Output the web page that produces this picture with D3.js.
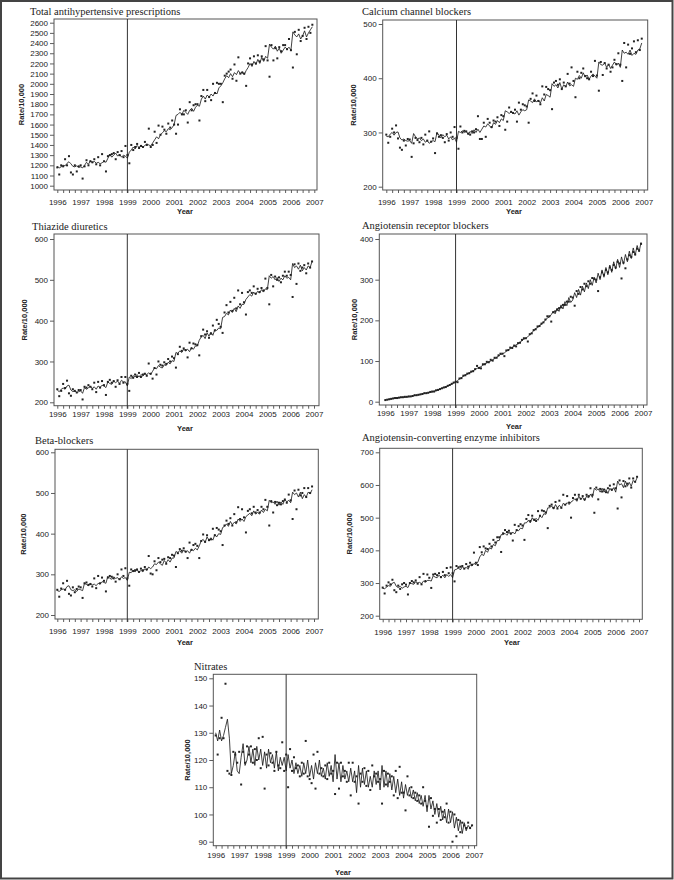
<!DOCTYPE html>
<html>
<head>
<meta charset="utf-8">
<script src="https://cdn.jsdelivr.net/npm/d3@7"></script>
<style>
  body { margin: 0; background: #fff; }
  svg { display: block; }
  .tick text { font-family: "Liberation Sans", Arial, sans-serif; font-size: 8px; fill: #222; }
  .ttl { font-family: "Liberation Serif", "Times New Roman", serif; font-size: 10.5px; fill: #222; }
  .lab { font-family: "Liberation Sans", Arial, sans-serif; font-size: 7.5px; font-weight: bold; fill: #222; }
</style>
</head>
<body>
<div id="chart"></div>
<script>
// monthly values, Jan 1996 .. Dec 2006 (one row per year)
const yearTicks = [1996, 1997, 1998, 1999, 2000, 2001, 2002, 2003, 2004, 2005, 2006, 2007];

const totalFit = [
  1190,1175,1185,1200,1195,1220,1235,1215,1190,1185,1195,1180,
  1185,1175,1200,1230,1210,1245,1225,1240,1220,1230,1215,1225,
  1240,1230,1270,1310,1280,1300,1320,1290,1310,1280,1300,1290,
  1270,1330,1350,1380,1360,1395,1375,1400,1380,1395,1410,1400,
  1390,1420,1450,1480,1460,1500,1520,1540,1530,1560,1550,1570,
  1600,1690,1700,1720,1700,1740,1720,1700,1740,1760,1730,1770,
  1790,1780,1850,1880,1850,1890,1870,1900,1880,1920,1900,1960,
  1980,2010,2050,2080,2060,2100,2070,2110,2090,2130,2100,2120,
  2090,2130,2160,2200,2170,2220,2190,2240,2200,2260,2220,2270,
  2250,2390,2360,2340,2370,2320,2350,2300,2330,2360,2340,2360,
  2330,2510,2480,2460,2490,2440,2470,2520,2460,2500,2530,2560];
const totalObs = [
  1180,1110,1200,1190,1260,1200,1290,1130,1110,1200,1140,1190,
  1200,1070,1190,1250,1200,1240,1230,1260,1210,1280,1200,1310,
  1240,1140,1290,1300,1310,1320,1260,1330,1300,1340,1280,1390,
  1300,1220,1400,1350,1380,1410,1370,1390,1380,1430,1400,1560,
  1380,1400,1530,1420,1590,1500,1580,1550,1510,1610,1570,1640,
  1600,1510,1600,1750,1700,1700,1740,1620,1820,1740,1790,1800,
  1800,1640,1880,1940,1830,1940,1870,1840,2000,1910,2010,2000,
  2000,1820,2080,2100,2120,2140,2050,2190,2030,2260,2100,2110,
  2100,1980,2200,2250,2190,2270,2200,2280,2220,2270,2240,2370,
  2230,2070,2380,2230,2350,2250,2360,2320,2380,2380,2340,2440,
  2330,2160,2510,2290,2530,2420,2470,2550,2440,2560,2500,2580];

const ccbFit = [
  293,292,297,300,295,300,301,290,286,288,285,284,
  285,280,298,292,288,290,285,288,282,285,280,283,
  285,283,300,295,290,296,292,295,288,292,286,290,
  282,302,300,303,300,302,296,302,298,305,300,306,
  300,306,312,310,316,312,308,318,315,322,318,325,
  322,340,338,335,338,336,334,340,332,338,342,340,
  342,360,358,355,362,356,360,354,364,358,370,368,
  365,390,385,388,382,392,380,388,384,393,386,388,
  385,400,398,405,400,410,402,406,398,404,408,404,
  400,430,425,424,428,420,426,418,424,430,424,428,
  420,452,446,448,444,452,442,446,444,452,454,465];
const ccbObs = [
  296,281,292,307,300,313,289,272,268,285,276,288,
  287,255,280,290,286,282,290,278,296,285,302,283,
  289,262,298,292,295,290,282,297,285,300,292,310,
  290,270,311,300,303,302,298,296,302,300,306,330,
  288,288,318,292,325,318,310,322,320,328,312,332,
  330,305,320,346,338,336,342,320,355,342,352,350,
  348,318,362,372,358,368,358,352,385,370,384,380,
  378,343,392,395,388,398,380,392,385,408,390,420,
  395,365,412,400,410,418,404,400,398,412,404,432,
  405,377,430,406,428,418,425,412,420,434,426,446,
  425,395,465,420,462,445,455,468,448,470,452,473];

const thzFit = [
  230,226,232,235,232,240,242,230,226,228,224,226,
  228,222,236,232,235,240,234,238,232,240,236,242,
  240,236,250,246,244,252,248,252,246,254,250,250,
  240,262,258,265,262,268,262,268,264,270,268,272,
  268,276,284,282,290,286,284,292,290,298,294,302,
  300,322,320,326,322,330,326,330,324,334,330,338,
  338,352,360,364,356,370,362,372,364,378,376,382,
  380,408,410,418,414,426,420,430,422,436,430,440,
  440,452,458,464,460,470,464,472,468,476,470,478,
  476,510,504,508,500,506,496,504,500,510,504,506,
  500,540,530,534,526,536,522,530,524,534,530,545];
const thzObs = [
  232,215,228,245,235,253,222,216,232,228,224,230,
  230,207,238,236,242,238,232,248,225,250,236,252,
  242,218,250,255,248,252,238,254,245,262,248,262,
  245,228,265,260,268,262,272,262,268,270,265,295,
  270,258,284,268,300,292,290,298,294,306,300,312,
  308,285,318,336,326,332,328,310,346,332,344,342,
  340,315,362,378,366,374,358,368,388,376,402,392,
  385,370,420,438,420,446,424,456,430,474,440,468,
  445,415,470,474,468,484,466,478,470,480,474,503,
  480,440,512,484,508,500,506,494,510,520,510,520,
  512,458,538,490,540,522,530,536,516,540,530,545];

const arbFit = [
  4,5,6,7,8,9,9,10,10,11,11,12,
  12,13,14,15,16,17,18,19,20,21,22,23,
  24,26,27,29,31,33,35,37,39,41,43,46,
  48,52,56,59,63,66,68,71,73,76,79,82,
  84,86,90,93,95,98,100,103,106,109,112,116,
  118,120,124,128,130,134,136,140,142,146,150,154,
  156,160,164,170,174,180,182,188,190,196,200,206,
  208,214,222,216,230,222,238,228,246,236,256,244,
  250,268,256,276,262,284,270,292,278,300,286,306,
  292,316,300,324,306,330,312,336,318,344,326,350,
  330,356,338,362,344,370,352,378,360,384,368,392];
const arbObs = [
  4,5,6,7,8,9,9,10,11,11,12,12,
  13,13,14,16,16,17,18,19,21,21,22,24,
  25,25,28,29,31,33,35,36,39,41,44,47,
  49,48,57,58,64,65,69,70,74,75,80,88,
  83,82,92,92,98,97,103,101,108,108,114,118,
  118,112,126,127,133,132,138,136,144,145,152,156,
  156,148,166,168,176,178,185,186,192,195,202,210,
  210,197,220,222,226,230,232,238,238,246,246,258,
  256,236,272,265,282,276,290,284,296,290,304,302,
  300,272,306,318,312,324,318,330,324,336,330,344,
  340,303,342,328,350,360,356,368,362,376,372,388];

const bbFit = [
  260,258,262,264,262,270,272,262,260,262,258,264,
  262,260,278,275,272,278,274,276,272,278,276,282,
  280,278,295,290,288,294,290,292,286,294,290,292,
  285,305,304,310,306,312,304,310,306,314,310,318,
  314,318,326,324,330,326,322,334,328,336,330,340,
  340,356,354,358,352,360,354,358,352,362,358,364,
  360,370,382,386,378,392,384,390,384,398,392,400,
  398,415,418,424,418,430,422,428,424,436,430,436,
  430,442,446,450,444,456,448,452,448,458,452,460,
  456,482,476,478,472,480,470,478,472,484,478,482,
  476,502,496,500,490,502,486,496,490,502,498,508];
const bbObs = [
  262,245,265,278,262,284,252,248,268,256,264,270,
  268,242,278,280,274,276,270,290,266,296,278,292,
  284,258,292,296,294,290,282,300,288,312,296,315,
  290,272,312,308,310,312,306,314,310,318,312,345,
  302,300,332,310,340,330,336,338,326,342,340,348,
  346,318,352,362,358,364,356,340,378,360,372,375,
  370,340,382,398,380,396,384,386,412,396,414,410,
  406,372,420,432,424,438,420,448,428,465,436,460,
  440,403,456,460,450,466,452,458,452,466,460,483,
  466,420,480,452,478,470,476,472,480,484,476,496,
  482,436,506,460,508,494,500,512,490,512,500,516];

const aceFit = [
  284,282,288,292,290,300,302,290,286,290,284,288,
  290,286,300,298,296,304,300,302,298,306,302,308,
  308,306,322,318,316,324,318,324,316,326,320,326,
  316,340,342,346,340,350,344,348,342,356,352,360,
  356,364,380,388,384,400,394,408,404,418,414,430,
  430,448,448,452,446,456,448,456,450,462,460,468,
  466,484,484,492,484,500,490,498,492,506,500,512,
  510,530,530,536,526,540,530,538,530,544,538,546,
  540,548,552,558,550,566,556,562,552,566,560,572,
  562,590,584,588,578,590,578,586,574,590,582,592,
  578,612,600,604,592,612,596,608,596,614,608,622];
const aceObs = [
  286,268,292,302,296,310,278,272,292,282,296,300,
  295,265,300,306,302,308,298,318,296,328,306,326,
  316,285,326,328,324,330,318,334,324,346,330,348,
  330,305,352,348,350,352,344,358,350,362,356,393,
  362,355,410,394,412,406,404,420,412,432,424,440,
  440,395,452,462,456,460,452,430,478,462,474,480,
  476,432,496,508,490,506,494,490,520,506,522,520,
  516,468,536,540,530,548,528,552,530,570,540,566,
  546,500,560,570,556,570,558,566,556,570,566,590,
  570,515,592,556,588,580,586,578,590,598,586,602,
  590,528,614,562,612,596,604,620,592,620,610,625];

const nitFit = [
  130,127,131,127,129,132,135,128,115,118,123,116,
  115,121,126,118,120,125,119,124,118,125,120,124,
  118,123,117,124,119,122,117,123,116,121,118,121,
  116,122,117,120,115,119,115,118,114,119,115,120,
  114,118,113,119,115,120,114,117,113,119,114,118,
  112,122,113,119,112,118,113,116,112,117,112,116,
  108,118,110,117,111,116,110,114,110,116,111,116,
  109,118,110,116,110,115,109,114,108,113,107,112,
  106,111,107,110,106,109,105,108,104,107,103,107,
  101,107,102,105,100,104,99,103,98,102,97,102,
  97,101,95,99,94,98,93,97,94,96,95,96];
const nitObs = [
  129,122,128,135.5,128,148,116,115,114.5,123,122,119,
  123,111,123,119,125,122,125,119,124,120,128,117,
  128.5,109.5,122,118,122.5,119,116,123,118,117,126.5,116,
  122,110,124,116,121,117,118,114,119,115,127,114,
  113,111.5,122,109.5,123,115,117,114,118,113,119,115,
  116,107.5,119,109.5,119,114,116,112,119,107,119,112,
  114,104,115,112,117,110.5,116,109,118,114,115,112,
  113,104,116,111,115,112,114,107,116,106,117.5,108,
  108,101.5,114,107,110,106,108,105,107,104,110,105,
  103,95.5,106,99.5,102,97,102,98,101,99,104,97,
  101,90,100,92,98,93.5,97,96,95,97,95,96];

const panels = [
  { title: "Total antihypertensive prescriptions", fit: totalFit, obs: totalObs,
    box: [54, 19, 317, 190], xr: [57.3, 314.3], yd: [1000, 2600], yr: [185.7, 22.7], step: 100,
    tx: 30, ty: 15, lx: 21, tickY: 201.7, yearY: 211, yearX: 185 },
  { title: "Calcium channel blockers", fit: ccbFit, obs: ccbObs,
    box: [382.7, 20, 647.7, 190], xr: [386.3, 643.7], yd: [200, 500], yr: [186.7, 24], step: 100,
    tx: 362, ty: 15, lx: 353, tickY: 201.7, yearY: 211, yearX: 514 },
  { title: "Thiazide diuretics", fit: thzFit, obs: thzObs,
    box: [54, 234, 319, 405.7], xr: [57.3, 314], yd: [200, 600], yr: [402.3, 239], step: 100,
    tx: 32, ty: 230, lx: 24, tickY: 414, yearY: 428, yearX: 185 },
  { title: "Angiotensin receptor blockers", fit: arbFit, obs: arbObs,
    box: [379.3, 234, 647, 405], xr: [385.3, 643], yd: [0, 400], yr: [401.7, 239], step: 100,
    tx: 362, ty: 229, lx: 354, tickY: 413.5, yearY: 426, yearX: 514 },
  { title: "Beta-blockers", fit: bbFit, obs: bbObs,
    box: [55, 449.3, 318.3, 619], xr: [57.3, 314], yd: [200, 600], yr: [615, 452.3], step: 100,
    tx: 35, ty: 444, lx: 23, tickY: 631, yearY: 642, yearX: 185 },
  { title: "Angiotensin-converting enzyme inhibitors", fit: aceFit, obs: aceObs,
    box: [379.7, 448.3, 642.3, 619.3], xr: [382.7, 639], yd: [200, 700], yr: [615.7, 452.3], step: 100,
    tx: 362, ty: 441, lx: 349, tickY: 632, yearY: 642, yearX: 512 },
  { title: "Nitrates", fit: nitFit, obs: nitObs,
    box: [213.3, 674.3, 476.7, 845.7], xr: [215.7, 474], yd: [90, 150], yr: [841.7, 678.3], step: 10,
    tx: 194, ty: 670, lx: 187, tickY: 855, yearY: 872, yearX: 343 }
];

const svg = d3.select("#chart").append("svg")
  .attr("width", 674).attr("height", 880);

svg.append("rect").attr("x", 1).attr("y", 1).attr("width", 671.5).attr("height", 877.5)
  .attr("fill", "none").attr("stroke", "#444").attr("stroke-width", 2);

const months = d3.range(132).map(i => 1996 + i / 12);
const quarters = d3.range(45).map(i => 1996 + i * 0.25);

panels.forEach(p => {
  const g = svg.append("g");
  const [L, T, R, B] = p.box;
  const x = d3.scaleLinear().domain([1996, 2007]).range(p.xr);
  const y = d3.scaleLinear().domain(p.yd).range(p.yr);

  // x axis hanging from the box bottom
  const xa = g.append("g").attr("transform", `translate(0,${B})`)
    .call(d3.axisBottom(x).tickValues(quarters).tickSize(3)
      .tickFormat(d => Number.isInteger(d) ? d : ""));
  xa.select(".domain").remove();
  xa.selectAll(".tick line").attr("stroke", "#333").attr("stroke-width", 0.8);
  xa.selectAll(".tick text").attr("y", p.tickY - B).attr("dy", "0.35em");

  const ya = g.append("g").attr("transform", `translate(${L},0)`)
    .call(d3.axisLeft(y).tickValues(d3.range(p.yd[0], p.yd[1] + 1, p.step)).tickSize(4).tickPadding(2)
      .tickFormat(d3.format("d")));
  ya.select(".domain").remove();
  ya.selectAll(".tick line").attr("stroke", "#333").attr("stroke-width", 0.8);

  g.append("rect").attr("x", L).attr("y", T).attr("width", R - L).attr("height", B - T)
    .attr("fill", "none").attr("stroke", "#555").attr("stroke-width", 1);

  g.append("line").attr("x1", x(1999)).attr("x2", x(1999)).attr("y1", T).attr("y2", B + 3)
    .attr("stroke", "#333").attr("stroke-width", 1);

  g.append("path").datum(p.fit)
    .attr("fill", "none").attr("stroke", "#111").attr("stroke-width", 0.8)
    .attr("d", d3.line().x((d, i) => x(months[i])).y(d => y(d)));

  g.selectAll("rect.pt").data(p.obs).join("rect").attr("class", "pt")
    .attr("x", (d, i) => x(months[i]) - 1).attr("y", d => y(d) - 1)
    .attr("width", 2).attr("height", 2).attr("fill", "#222");

  g.append("text").attr("class", "ttl").attr("x", p.tx).attr("y", p.ty).text(p.title);
  g.append("text").attr("class", "lab")
    .attr("transform", `translate(${p.lx},${(T + B) / 2}) rotate(-90)`)
    .attr("text-anchor", "middle").attr("dy", "0.35em").text("Rate/10,000");
  g.append("text").attr("class", "lab").attr("x", p.yearX).attr("y", p.yearY)
    .attr("text-anchor", "middle").attr("dy", "0.35em").text("Year");
});
</script>
</body>
</html>
